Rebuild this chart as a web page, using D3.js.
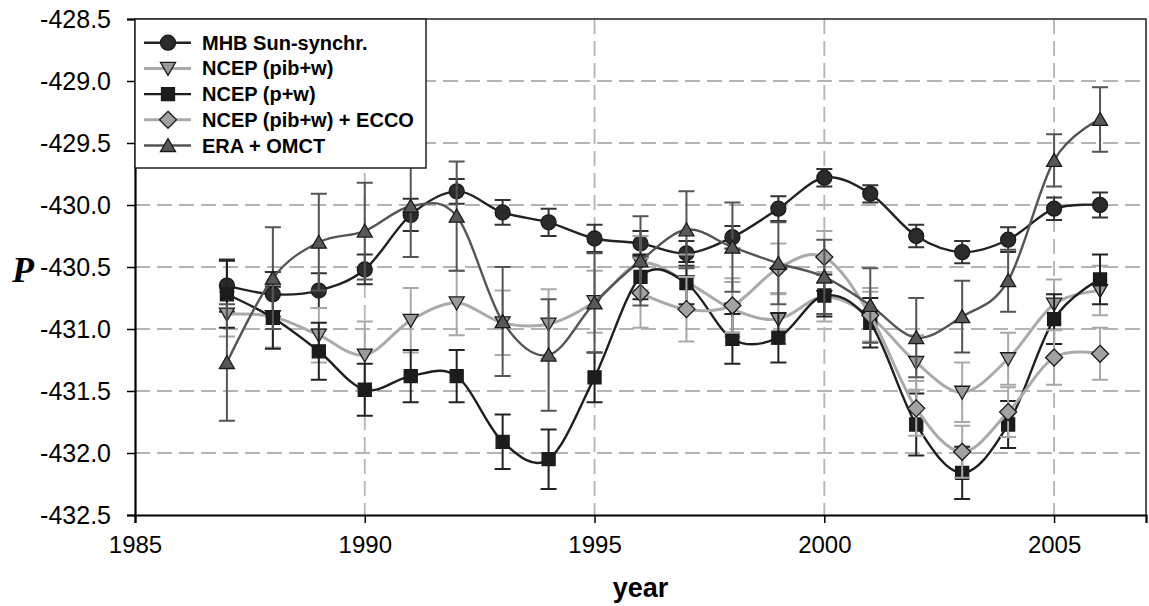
<!DOCTYPE html>
<html>
<head>
<meta charset="utf-8">
<script src="https://cdn.jsdelivr.net/npm/d3@7"></script>
<style>
  body { margin: 0; background: #fff; }
  svg { display: block; }
</style>
</head>
<body>
<svg id="chart" width="1149" height="606"></svg>
<script>
// Polar motion excitation term P per year, five estimates with 1-sigma error bars
const years = [1987, 1988, 1989, 1990, 1991, 1992, 1993, 1994, 1995, 1996,
               1997, 1998, 1999, 2000, 2001, 2002, 2003, 2004, 2005, 2006];

const seriesNames = ["MHB Sun-synchr.", "NCEP (pib+w)", "NCEP (p+w)", "NCEP (pib+w) + ECCO", "ERA + OMCT"];

const mhb    = [-430.65, -430.72, -430.69, -430.52, -430.08, -429.89, -430.06, -430.14, -430.27, -430.31,
                -430.39, -430.26, -430.03, -429.78, -429.91, -430.25, -430.38, -430.28, -430.03, -430.00];
const mhbErr = [0.21, 0.18, 0.14, 0.12, 0.13, 0.10, 0.10, 0.11, 0.11, 0.10,
                0.10, 0.09, 0.10, 0.07, 0.07, 0.09, 0.09, 0.10, 0.09, 0.10];

const ncepPibW    = [-430.88, -430.90, -431.05, -431.21, -430.93, -430.79, -430.95, -430.96, -430.78, -430.47,
                     -430.62, -430.84, -430.92, -430.74, -430.90, -431.27, -431.51, -431.24, -430.80, -430.69];
const ncepPibWErr = [0.18, 0.25, 0.22, 0.27, 0.26, 0.26, 0.26, 0.28, 0.25, 0.22,
                     0.22, 0.22, 0.20, 0.20, 0.20, 0.22, 0.24, 0.21, 0.20, 0.20];

const ncepPW    = [-430.72, -430.91, -431.18, -431.49, -431.38, -431.38, -431.91, -432.05, -431.39, -430.58,
                   -430.63, -431.08, -431.07, -430.73, -430.95, -431.77, -432.16, -431.77, -430.92, -430.60];
const ncepPWErr = [0.27, 0.25, 0.23, 0.21, 0.21, 0.21, 0.22, 0.24, 0.20, 0.18,
                   0.17, 0.20, 0.20, 0.17, 0.20, 0.25, 0.21, 0.19, 0.20, 0.20];

const ncepEcco    = [null, null, null, null, null, null, null, null, null, -430.71,
                     -430.84, -430.81, -430.51, -430.42, -430.89, -431.64, -431.99, -431.67, -431.23, -431.20];
const ncepEccoErr = [null, null, null, null, null, null, null, null, null, 0.28,
                     0.26, 0.22, 0.20, 0.21, 0.22, 0.22, 0.21, 0.20, 0.22, 0.21];

const eraOmct    = [-431.27, -430.59, -430.30, -430.21, -430.01, -430.09, -430.94, -431.21, -430.79, -430.45,
                    -430.20, -430.34, -430.47, -430.58, -430.81, -431.07, -430.90, -430.61, -429.64, -429.31];
const eraOmctErr = [0.47, 0.41, 0.39, 0.39, 0.41, 0.44, 0.44, 0.45, 0.40, 0.36,
                    0.31, 0.36, 0.33, 0.30, 0.30, 0.32, 0.29, 0.25, 0.21, 0.26];

const xTicks = [1985, 1990, 1995, 2000, 2005];
const yTicks = [-432.5, -432.0, -431.5, -431.0, -430.5, -430.0, -429.5, -429.0, -428.5];
const xGrid = [1990, 1995, 2000, 2005];
const yGrid = [-432.0, -431.5, -431.0, -430.5, -430.0, -429.5, -429.0];

// ---- marker shapes ----
const shapes = {
  circle:   "M7.5,0A7.5,7.5 0 1,1 -7.5,0A7.5,7.5 0 1,1 7.5,0Z",
  square:   "M-6.5,-6.5H6.5V6.5H-6.5Z",
  triUp:    "M0,-7L7.5,6L-7.5,6Z",
  triDown:  "M0,7L7.5,-6L-7.5,-6Z",
  diamond:  "M0,-8.5L8.5,0L0,8.5L-8.5,0Z"
};

const series = [
  { name: seriesNames[0], values: mhb,      errs: mhbErr,      shape: "circle",  line: "#222", width: 2.4, fill: "#2b2b2b", err: "#333" },
  { name: seriesNames[1], values: ncepPibW, errs: ncepPibWErr, shape: "triDown", line: "#aaaaaa", width: 3, fill: "#9a9a9a", err: "#a8a8a8" },
  { name: seriesNames[2], values: ncepPW,   errs: ncepPWErr,   shape: "square",  line: "#1e1e1e", width: 2.4, fill: "#1c1c1c", err: "#222" },
  { name: seriesNames[3], values: ncepEcco, errs: ncepEccoErr, shape: "diamond", line: "#aaaaaa", width: 3, fill: "#a2a2a2", err: "#a8a8a8" },
  { name: seriesNames[4], values: eraOmct,  errs: eraOmctErr,  shape: "triUp",   line: "#555", width: 2.4, fill: "#585858", err: "#555" }
];

// ---- layout ----
const svg = d3.select("#chart");
const plot = { left: 135, right: 1146, top: 19, bottom: 515 };

const x = d3.scaleLinear().domain([1985, 2007]).range([plot.left, plot.right]);
const y = d3.scaleLinear().domain([-432.5, -428.5]).range([plot.bottom, plot.top]);

// gridlines
const grid = svg.append("g").attr("stroke", "#b4b4b4").attr("stroke-width", 1.8).attr("stroke-dasharray", "15,7");
grid.selectAll("line.h").data(yGrid).join("line").attr("class", "h")
  .attr("x1", plot.left).attr("x2", plot.right)
  .attr("y1", d => y(d)).attr("y2", d => y(d));
grid.selectAll("line.v").data(xGrid).join("line").attr("class", "v")
  .attr("y1", plot.top).attr("y2", plot.bottom)
  .attr("x1", d => x(d)).attr("x2", d => x(d));

// plot frame (top and right)
svg.append("path")
  .attr("d", `M${plot.left},${plot.top}H${plot.right}V${plot.bottom}`)
  .attr("fill", "none").attr("stroke", "#222").attr("stroke-width", 1.5);

// series: error bars, smoothed line, markers
const lineGen = d3.line()
  .defined(d => d.v != null)
  .x(d => x(d.year)).y(d => y(d.v))
  .curve(d3.curveCardinal.tension(0));

series.forEach(s => {
  const pts = years.map((yr, i) => ({ year: yr, v: s.values[i], e: s.errs[i] }));
  const valid = pts.filter(p => p.v != null);
  const g = svg.append("g");

  const eb = g.append("g").attr("stroke", s.err).attr("stroke-width", 2).attr("fill", "none");
  eb.selectAll("path").data(valid).join("path")
    .attr("d", p => {
      const cx = x(p.year), y1 = y(p.v + p.e), y2 = y(p.v - p.e);
      return `M${cx},${y1}V${y2}M${cx - 8},${y1}H${cx + 8}M${cx - 8},${y2}H${cx + 8}`;
    });

  g.append("path").datum(pts)
    .attr("d", lineGen)
    .attr("fill", "none").attr("stroke", s.line).attr("stroke-width", s.width);

  g.selectAll("path.m").data(valid).join("path").attr("class", "m")
    .attr("d", shapes[s.shape])
    .attr("transform", p => `translate(${x(p.year)},${y(p.v)})`)
    .attr("fill", s.fill).attr("stroke", "#1a1a1a").attr("stroke-width", 1.3);
});

// axes
const xAxis = svg.append("g").attr("transform", `translate(0,${plot.bottom})`)
  .call(d3.axisBottom(x).tickValues(xTicks).tickSize(8).tickPadding(13).tickFormat(d3.format("d")));
const yAxis = svg.append("g").attr("transform", `translate(${plot.left},0)`)
  .call(d3.axisLeft(y).tickValues(yTicks).tickSize(8).tickPadding(16).tickFormat(d => d.toFixed(1)));

[xAxis, yAxis].forEach(a => {
  a.select(".domain").attr("stroke", "#000").attr("stroke-width", 2.2);
  a.selectAll(".tick line").attr("stroke", "#000").attr("stroke-width", 1.5);
  a.selectAll("text").attr("fill", "#000").attr("font-family", "'Liberation Sans', Arial, sans-serif");
});
xAxis.selectAll("text").attr("font-size", 24);
yAxis.selectAll("text").attr("font-size", 25);

// axis titles
svg.append("text").attr("x", (plot.left + plot.right) / 2).attr("y", 597)
  .attr("text-anchor", "middle")
  .attr("font-family", "'Liberation Sans', Arial, sans-serif")
  .attr("font-weight", "bold").attr("font-size", 27).text("year");

svg.append("text").attr("x", 23).attr("y", 282)
  .attr("text-anchor", "middle")
  .attr("font-family", "'Liberation Serif', 'Times New Roman', serif")
  .attr("font-weight", "bold").attr("font-style", "italic").attr("font-size", 36).text("P");

// legend
const legend = svg.append("g");
legend.append("rect")
  .attr("x", plot.left).attr("y", plot.top).attr("width", 426 - plot.left).attr("height", 168 - plot.top)
  .attr("fill", "#fff").attr("stroke", "#222").attr("stroke-width", 1.5);

series.forEach((s, i) => {
  const cy = 42.7 + i * 25.7;
  const row = legend.append("g");
  row.append("line").attr("x1", 144).attr("x2", 191).attr("y1", cy).attr("y2", cy)
    .attr("stroke", s.line).attr("stroke-width", s.width);
  row.append("path").attr("d", shapes[s.shape]).attr("transform", `translate(168,${cy})`)
    .attr("fill", s.fill).attr("stroke", "#1a1a1a").attr("stroke-width", 1.3);
  row.append("text").attr("x", 202).attr("y", cy).attr("dy", "0.35em")
    .attr("font-family", "'Liberation Sans', Arial, sans-serif")
    .attr("font-weight", "bold").attr("font-size", 20).attr("fill", "#000")
    .text(s.name);
});
</script>
</body>
</html>
